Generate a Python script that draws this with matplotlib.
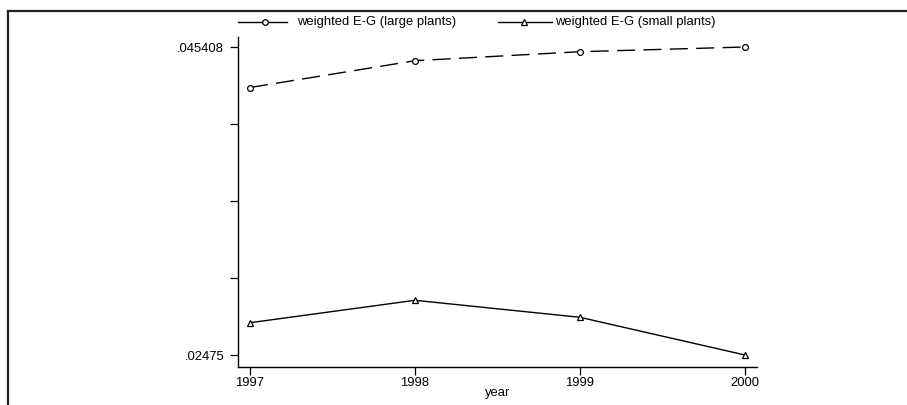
import matplotlib
matplotlib.use("Agg")
import matplotlib.pyplot as plt
from matplotlib.lines import Line2D

plt.rcParams['font.family'] = ['Liberation Sans', 'DejaVu Sans']

years = [1997, 1998, 1999, 2000]
large_plants = [0.042691, 0.044489, 0.045093, 0.045408]
small_plants = [0.026916, 0.028419, 0.027278, 0.024750]
ytick_values = [0.02475, 0.0299145, 0.035079, 0.0402435, 0.045408]
ytick_labels = ['.02475', '', '', '', '.045408']
legend_labels = ['weighted E-G (large plants)', 'weighted E-G (small plants)']

W, H = 907, 405
fig = plt.figure(figsize=(W / 100, H / 100), dpi=100)

def fx(px):
    return px / W

def fy(py):
    return 1 - py / H

ax = fig.add_axes([fx(238), fy(367), fx(757) - fx(238), fy(37) - fy(367)])

ax.plot(years, large_plants, color='black', lw=1.0, dashes=(13, 6),
        marker='o', markersize=4.2, markerfacecolor='white', markeredgecolor='black',
        markeredgewidth=0.9)
ax.plot(years, small_plants, color='black', lw=1.0, linestyle='-',
        marker='^', markersize=4.8, markerfacecolor='white', markeredgecolor='black',
        markeredgewidth=0.9)

ax.set_xlim(1997 - 12 / 165, 2000 + 12 / 165)
upp = (0.045408 - 0.02475) / 308
ax.set_ylim(0.02475 - 12 * upp, 0.045408 + 10 * upp)

ax.set_xticks(years)
ax.set_xticklabels([str(y) for y in years])
ax.set_yticks(ytick_values)
ax.set_yticklabels(ytick_labels)
ax.tick_params(axis='both', direction='out', length=6, width=0.9, labelsize=9.4, colors='black')
ax.tick_params(axis='x', pad=1.5)
ax.tick_params(axis='y', pad=4)

for s in ['top', 'right']:
    ax.spines[s].set_visible(False)
for s in ['left', 'bottom']:
    ax.spines[s].set_linewidth(1.0)

ax.set_xlabel('year', fontsize=9.4, va='center')
ax.xaxis.set_label_coords(0.5, (367 - 393) / 330)

# Legend drawn manually in figure coordinates
ly = fy(21.5)
fig.add_artist(Line2D([fx(238), fx(287)], [ly, ly], color='black', lw=1.0))
fig.add_artist(Line2D([fx(265)], [ly], marker='o', markersize=4.0, markerfacecolor='white',
                      markeredgecolor='black', markeredgewidth=0.9, linestyle='none'))
fig.text(fx(297), ly, legend_labels[0], fontsize=9.4, va='center', ha='left')
fig.add_artist(Line2D([fx(498), fx(552)], [ly, ly], color='black', lw=1.0))
fig.add_artist(Line2D([fx(524)], [ly], marker='^', markersize=4.5, markerfacecolor='white',
                      markeredgecolor='black', markeredgewidth=0.9, linestyle='none'))
fig.text(fx(555), ly, legend_labels[1], fontsize=9.4, va='center', ha='left')

# Outer border (cropped frame)
fig.add_artist(Line2D([fx(8), 1.0], [fy(11), fy(11)], color='#222222', lw=1.6))
fig.add_artist(Line2D([fx(8), fx(8)], [fy(11), 0.0], color='#222222', lw=1.6))

fig.savefig('out.png', dpi=100)
